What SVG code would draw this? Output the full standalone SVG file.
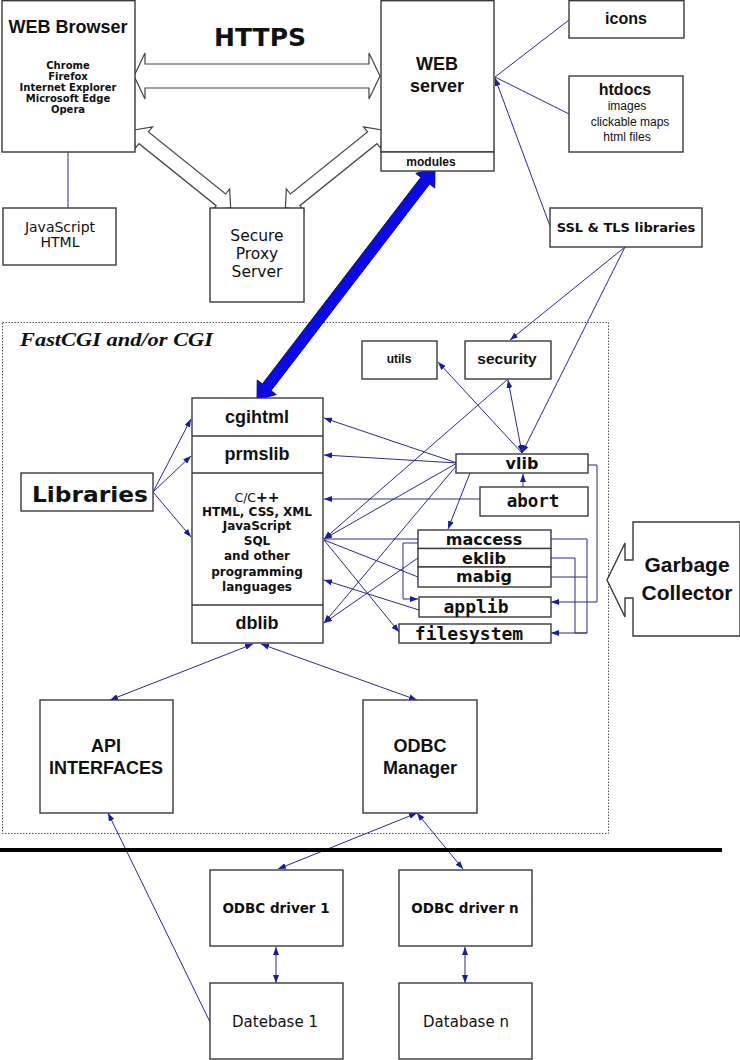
<svg xmlns="http://www.w3.org/2000/svg" width="740" height="1060" viewBox="0 0 740 1060">
<style>
.box{fill:#fff;stroke:#3a3a3a;stroke-width:1.4}
.ab{font-family:"Liberation Sans",Arial,sans-serif;font-weight:bold;fill:#111;text-anchor:middle}
.ar{font-family:"Liberation Sans",Arial,sans-serif;fill:#111;text-anchor:middle}
.db{font-family:"DejaVu Sans",sans-serif;font-weight:bold;fill:#111;text-anchor:middle}
.dr{font-family:"DejaVu Sans",sans-serif;fill:#111;text-anchor:middle}
.mb{font-family:"DejaVu Sans Mono",monospace;font-weight:bold;fill:#111;text-anchor:middle}
.ln{fill:none;stroke:#2a2a8e;stroke-width:1}
.a1{marker-end:url(#ah)}
.a2{marker-start:url(#ah);marker-end:url(#ah)}
.hollow{fill:#fff;stroke:#444;stroke-width:1.2}
</style>
<defs>
<marker id="ah" viewBox="0 0 8 6" refX="8" refY="3" markerWidth="8" markerHeight="6" markerUnits="userSpaceOnUse" orient="auto-start-reverse">
<path d="M0,0 L8,3 L0,6 z" fill="#1a1aa8"/>
</marker>
</defs>
<rect width="740" height="1060" fill="#fff"/>

<g id="fastcgi">
<rect x="2.5" y="322.5" width="606" height="511" fill="none" stroke="#555" stroke-width="1" stroke-dasharray="1.5,1.5"/>
<text x="20" y="346" font-family="'Liberation Serif',serif" font-weight="bold" font-style="italic" font-size="19" textLength="193" lengthAdjust="spacingAndGlyphs" fill="#111">FastCGI and/or CGI</text>
</g>

<g id="https-label"><text class="db" x="260" y="46" font-size="25">HTTPS</text></g>

<g id="big-arrows">
<polygon class="hollow" points="0,0 11,-23 11,-12 235,-12 235,-23 246,0 235,23 235,12 11,12 11,23" transform="translate(134,76)"/>
<polygon class="hollow" points="0,0 12.5,-14 12.5,-7.5 111.5,-7.5 111.5,-14 124,0 111.5,14 111.5,7.5 12.5,7.5 12.5,14" transform="translate(134,130) rotate(38.8)"/>
<polygon class="hollow" points="0,0 12.5,-14 12.5,-7.5 111.5,-7.5 111.5,-14 124,0 111.5,14 111.5,7.5 12.5,7.5 12.5,14" transform="translate(382,130) rotate(141.2)"/>
<polygon points="0,0 16,-12 16,-5.5 276.4,-5.5 276.4,-12 292.4,0 276.4,12 276.4,5.5 16,5.5 16,12" transform="translate(435,168) rotate(127.5)" fill="#0a0ae6" stroke="#000070" stroke-width="0.8"/>
</g>

<g id="connectors">
<line class="ln" x1="68" y1="152" x2="68" y2="208"/>
<line class="ln" x1="569" y1="20" x2="495" y2="77"/>
<line class="ln" x1="569" y1="114" x2="495" y2="77"/>
<line class="ln a1" x1="550" y1="226" x2="495" y2="78"/>
<line class="ln a1" x1="625" y1="247" x2="510" y2="340"/>
<line class="ln a1" x1="625" y1="247" x2="522" y2="453"/>
<line class="ln a1" x1="522" y1="453" x2="438" y2="362"/>
<line class="ln a2" x1="508" y1="380" x2="522" y2="453"/>
<line class="ln a1" x1="523" y1="487" x2="523" y2="474"/>
<line class="ln a1" x1="153" y1="492" x2="191" y2="419"/>
<line class="ln a1" x1="153" y1="492" x2="191" y2="456"/>
<line class="ln a1" x1="153" y1="492" x2="191" y2="537"/>
<line class="ln a1" x1="457" y1="463" x2="324" y2="418"/>
<line class="ln a1" x1="457" y1="463" x2="324" y2="455"/>
<line class="ln a1" x1="457" y1="463" x2="324" y2="539"/>
<line class="ln a1" x1="457" y1="465" x2="324" y2="623"/>
<line class="ln a1" x1="508" y1="379" x2="324" y2="539"/>
<line class="ln a1" x1="480" y1="499" x2="324" y2="499"/>
<line class="ln" x1="418" y1="539" x2="324" y2="539"/>
<line class="ln" x1="418" y1="577" x2="324" y2="540"/>
<line class="ln a1" x1="324" y1="540" x2="399" y2="632"/>
<line class="ln a1" x1="418" y1="558" x2="324" y2="623"/>
<line class="ln a1" x1="419" y1="610" x2="324" y2="580"/>
<line class="ln a1" x1="470" y1="473" x2="448" y2="529"/>
<polyline class="ln a1" points="418,543 403,543 403,599 418,599"/>
<polyline class="ln a1" points="588,465 597,465 597,602 551,602"/>
<polyline class="ln" points="550,539 587,539 587,633"/>
<polyline class="ln" points="550,577 587,577"/>
<polyline class="ln a1" points="550,558 575,558 575,633 587,633 551,633"/>
<line class="ln a2" x1="253" y1="644" x2="110" y2="700"/>
<line class="ln a2" x1="261" y1="644" x2="417" y2="700"/>
<line class="ln a1" x1="210" y1="1022" x2="108" y2="813"/>
<line class="ln a2" x1="417" y1="813" x2="278" y2="869"/>
<line class="ln a2" x1="417" y1="813" x2="463" y2="869"/>
<line class="ln a2" x1="276" y1="947" x2="276" y2="983"/>
<line class="ln a2" x1="465" y1="947" x2="465" y2="983"/>
</g>

<line x1="0" y1="850" x2="722" y2="850" stroke="#000" stroke-width="4"/>

<g id="browser">
<rect class="box" x="2" y="0.7" width="133" height="151.3"/>
<text class="ab" x="68" y="33" font-size="18">WEB Browser</text>
<text class="db" x="68" y="69" font-size="10">Chrome</text>
<text class="db" x="68" y="80" font-size="10">Firefox</text>
<text class="db" x="68" y="91" font-size="10">Internet Explorer</text>
<text class="db" x="68" y="102" font-size="10">Microsoft Edge</text>
<text class="db" x="68" y="113" font-size="10">Opera</text>
</g>
<g id="jshtml">
<rect class="box" x="3" y="208" width="113" height="57"/>
<text class="dr" x="60" y="232" font-size="14">JavaScript</text>
<text class="dr" x="60" y="247" font-size="14">HTML</text>
</g>
<g id="proxy">
<rect class="box" x="210" y="208" width="94" height="94"/>
<text class="dr" x="257" y="241" font-size="15.5">Secure</text>
<text class="dr" x="257" y="259" font-size="15.5">Proxy</text>
<text class="dr" x="257" y="277" font-size="15.5">Server</text>
</g>
<g id="webserver">
<rect class="box" x="381" y="0.7" width="113" height="151.3"/>
<rect class="box" x="381" y="152" width="113" height="19"/>
<text class="ab" x="437" y="70" font-size="18">WEB</text>
<text class="ab" x="437" y="92" font-size="18">server</text>
<text class="ab" x="431" y="166" font-size="12">modules</text>
</g>
<g id="icons">
<rect class="box" x="569" y="0.7" width="115" height="37.3"/>
<text class="ab" x="626" y="24" font-size="16">icons</text>
</g>
<g id="htdocs">
<rect class="box" x="569" y="76" width="114" height="76"/>
<text class="ab" x="625" y="95" font-size="16">htdocs</text>
<text class="ar" x="627" y="110" font-size="12">images</text>
<text class="ar" x="630" y="126" font-size="12">clickable maps</text>
<text class="ar" x="627" y="141" font-size="12">html files</text>
</g>
<g id="ssl">
<rect class="box" x="550" y="208" width="152" height="39"/>
<text class="db" x="626" y="232" font-size="13">SSL &amp; TLS libraries</text>
</g>
<g id="utils">
<rect class="box" x="362" y="341" width="75" height="38"/>
<text class="ab" x="399" y="363" font-size="12">utils</text>
</g>
<g id="security">
<rect class="box" x="465" y="341" width="86" height="38"/>
<text class="ab" x="507" y="364" font-size="15.5">security</text>
</g>
<g id="stack">
<rect class="box" x="192" y="398" width="131" height="245"/>
<line x1="192" y1="436" x2="323" y2="436" stroke="#3a3a3a" stroke-width="1.4"/>
<line x1="192" y1="473" x2="323" y2="473" stroke="#3a3a3a" stroke-width="1.4"/>
<line x1="192" y1="605" x2="323" y2="605" stroke="#3a3a3a" stroke-width="1.4"/>
<text class="ab" x="257" y="423" font-size="18">cgihtml</text>
<text class="ab" x="257" y="460" font-size="18">prmslib</text>
<text class="dr" x="257" y="502" font-size="12.5">C/C<tspan font-weight="bold" font-size="14">++</tspan></text>
<text class="db" x="257" y="516" font-size="12">HTML, CSS, XML</text>
<text class="db" x="257" y="530" font-size="12">JavaScript</text>
<text class="db" x="257" y="545" font-size="12">SQL</text>
<text class="db" x="257" y="560" font-size="12">and other</text>
<text class="db" x="257" y="576" font-size="12">programming</text>
<text class="db" x="257" y="591" font-size="12">languages</text>
<text class="ab" x="257" y="629" font-size="18">dblib</text>
</g>
<g id="libraries">
<rect class="box" x="21" y="473" width="132" height="38"/>
<text class="db" x="90" y="502" font-size="22" textLength="116" lengthAdjust="spacingAndGlyphs">Libraries</text>
</g>
<g id="vlib">
<rect class="box" x="456" y="454" width="132" height="19"/>
<text class="db" x="522" y="469" font-size="16">vlib</text>
</g>
<g id="abort">
<rect class="box" x="480" y="487" width="108" height="29"/>
<text class="mb" x="533" y="507" font-size="17.5">abort</text>
</g>
<g id="maccess">
<rect class="box" x="418" y="530" width="133" height="18.5"/>
<text class="db" x="484" y="545" font-size="16">maccess</text>
</g>
<g id="eklib">
<rect class="box" x="418" y="548.5" width="133" height="18.5"/>
<text class="db" x="484" y="564" font-size="16">eklib</text>
</g>
<g id="mabig">
<rect class="box" x="418" y="567" width="133" height="20"/>
<text class="db" x="484" y="582" font-size="16">mabig</text>
</g>
<g id="applib">
<rect class="box" x="419" y="597" width="132" height="20"/>
<text class="mb" x="476" y="613" font-size="18">applib</text>
</g>
<g id="filesystem">
<rect class="box" x="399" y="624" width="152" height="19"/>
<text class="mb" x="469" y="640" font-size="18">filesystem</text>
</g>
<g id="garbage">
<polygon class="box" points="633,522 740,522 740,636 633,636 633,598 625,598 625,617 607,580 625,543 625,560 633,560"/>
<text class="ab" x="687" y="572" font-size="21">Garbage</text>
<text class="ab" x="687" y="600" font-size="21">Collector</text>
</g>
<g id="api">
<rect class="box" x="40" y="700" width="133" height="113"/>
<text class="ab" x="106" y="752" font-size="18">API</text>
<text class="ab" x="106" y="774" font-size="18">INTERFACES</text>
</g>
<g id="odbcmgr">
<rect class="box" x="363" y="700" width="114" height="113"/>
<text class="ab" x="420" y="752" font-size="18">ODBC</text>
<text class="ab" x="420" y="774" font-size="18">Manager</text>
</g>
<g id="driver1">
<rect class="box" x="210" y="870" width="133" height="76"/>
<text class="db" x="276" y="913" font-size="13.5">ODBC driver 1</text>
</g>
<g id="drivern">
<rect class="box" x="399" y="870" width="133" height="76"/>
<text class="db" x="465" y="913" font-size="13.5">ODBC driver n</text>
</g>
<g id="db1">
<rect class="box" x="210" y="983" width="133" height="76"/>
<text class="dr" x="275" y="1027" font-size="15">Datebase 1</text>
</g>
<g id="dbn">
<rect class="box" x="399" y="983" width="133" height="76"/>
<text class="dr" x="466" y="1027" font-size="15">Database n</text>
</g>
</svg>
